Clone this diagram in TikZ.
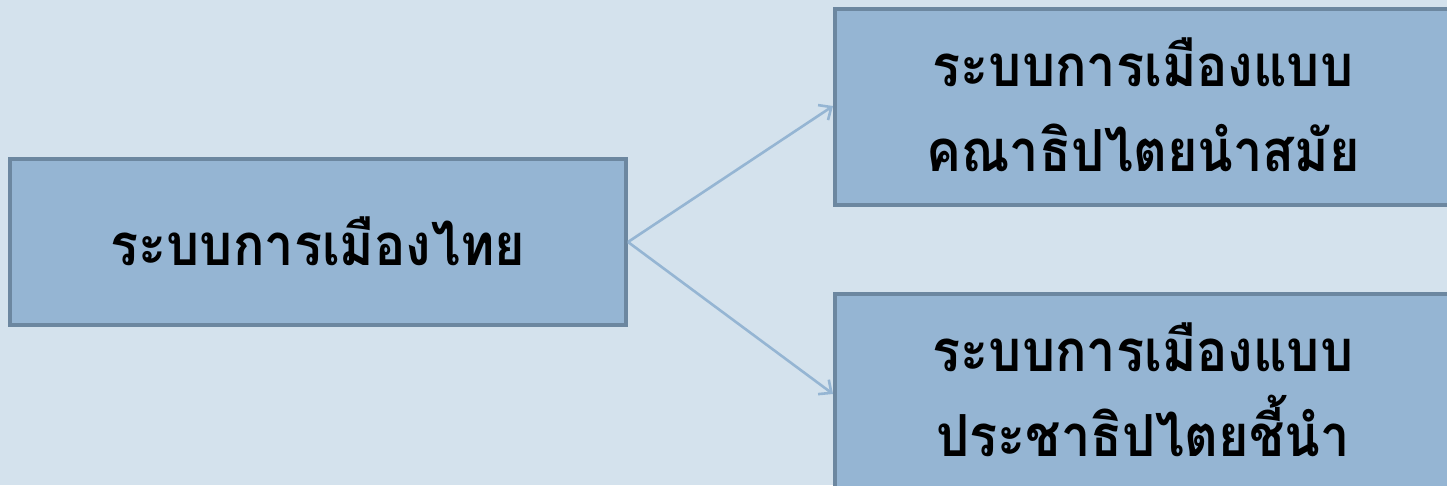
\documentclass[tikz,border=0pt]{standalone}
\usepackage{fontspec}
\newfontfamily\thaifont[Script=Thai,FakeStretch=0.9]{Loma}
\definecolor{bgc}{HTML}{D4E2ED}
\definecolor{boxfill}{HTML}{95B5D3}
\definecolor{boxline}{HTML}{6C87A0}
\definecolor{arrc}{HTML}{95B5D3}
\usetikzlibrary{arrows.meta}
\tikzset{
  box/.style={draw=boxline, line width=4pt, fill=boxfill, inner sep=0pt, align=center,
    font=\thaifont\bfseries\fontsize{58}{85}\selectfont},
  conn/.style={draw=arrc, line width=2.6pt, -{Straight Barb[length=10pt,width=18pt,line width=2.6pt]}}
}
\begin{document}
\begin{tikzpicture}[x=1pt,y=-1pt]
\fill[bgc] (0,0) rectangle (1447,485);
\useasboundingbox (0,0) rectangle (1447,485);
\node[box, minimum width=616pt, minimum height=166pt] (root) at (318,242) {\raisebox{2pt}{ระบบการเมืองไทย}};
\node[box, minimum width=616pt, minimum height=196pt] (a) at (1143,107) {\raisebox{4pt}{ระบบการเมืองแบบ}\\\raisebox{4pt}{คณาธิปไตยนำสมัย}};
\node[box, minimum width=616pt, minimum height=196pt] (b) at (1143,392) {\raisebox{4pt}{ระบบการเมืองแบบ}\\\raisebox{4pt}{ประชาธิปไตยชี้นำ}};
\draw[conn] (root.east) -- ([yshift=1pt]a.west);
\draw[conn] (root.east) -- ([yshift=-2pt]b.west);
\end{tikzpicture}
\end{document}
